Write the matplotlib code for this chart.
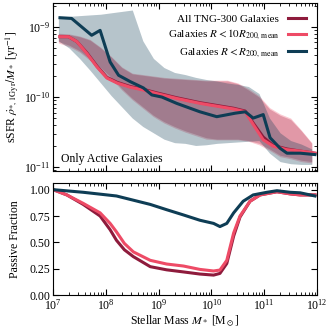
import numpy as np
import matplotlib
matplotlib.use("Agg")
import matplotlib.pyplot as plt

plt.rcParams['font.family'] = ['Liberation Serif', 'DejaVu Serif']
plt.rcParams['mathtext.fontset'] = 'stix'
plt.rcParams['font.size'] = 8.5

c_all = '#8e1b3c'
c_10r = '#ee4b66'
c_r = '#0e3d55'

# --- top panel: sSFR of active galaxies (log10 values) ---
logm_all = [7.13, 7.29, 7.45, 7.64, 7.83, 8.02, 8.21, 8.46, 8.71, 8.96, 9.34, 9.78, 10.10, 10.42, 10.64, 10.79, 10.98, 11.17, 11.43, 11.68, 11.96]
ssfr_all = [-9.14, -9.14, -9.21, -9.37, -9.56, -9.72, -9.79, -9.85, -9.89, -9.94, -10.01, -10.08, -10.12, -10.16, -10.20, -10.37, -10.57, -10.69, -10.74, -10.77, -10.80]
ssfr_10r = [-9.14, -9.14, -9.21, -9.38, -9.57, -9.73, -9.80, -9.86, -9.90, -9.95, -10.02, -10.09, -10.13, -10.17, -10.21, -10.39, -10.61, -10.70, -10.75, -10.77, -10.80]

logm_r = [7.13, 7.35, 7.54, 7.73, 7.89, 8.08, 8.24, 8.46, 8.71, 8.87, 9.06, 9.34, 9.78, 10.10, 10.45, 10.64, 10.79, 10.98, 11.11, 11.30, 11.43, 11.68, 11.96]
ssfr_r = [-8.87, -8.88, -9.00, -9.12, -9.05, -9.50, -9.69, -9.78, -9.87, -9.97, -10.00, -10.09, -10.21, -10.28, -10.23, -10.21, -10.30, -10.25, -10.58, -10.73, -10.80, -10.80, -10.82]

band_m = [7.1, 7.3, 7.5, 7.7, 7.9, 8.1, 8.3, 8.5, 8.7, 8.9, 9.1, 9.3, 9.5, 9.7, 9.9, 10.1, 10.3, 10.5, 10.7, 10.9, 11.1, 11.3, 11.5, 11.7, 11.9]
band_all_lo = [-9.21, -9.26, -9.34, -9.46, -9.58, -9.72, -9.88, -10.02, -10.14, -10.26, -10.35, -10.42, -10.48, -10.53, -10.58, -10.60, -10.60, -10.60, -10.62, -10.66, -10.74, -10.83, -10.86, -10.90, -10.92]
band_all_hi = [-9.10, -9.11, -9.14, -9.19, -9.30, -9.43, -9.58, -9.67, -9.69, -9.71, -9.73, -9.74, -9.75, -9.76, -9.77, -9.77, -9.77, -9.81, -9.90, -10.00, -10.17, -10.26, -10.32, -10.48, -10.66]
band_10r_lo = [-9.23, -9.28, -9.36, -9.48, -9.60, -9.74, -9.90, -10.04, -10.16, -10.28, -10.37, -10.44, -10.50, -10.55, -10.60, -10.61, -10.61, -10.61, -10.63, -10.68, -10.76, -10.85, -10.88, -10.92, -10.94]
band_10r_hi = [-9.09, -9.10, -9.13, -9.18, -9.29, -9.42, -9.57, -9.66, -9.68, -9.70, -9.72, -9.73, -9.74, -9.75, -9.76, -9.76, -9.76, -9.80, -9.88, -9.98, -10.15, -10.24, -10.30, -10.47, -10.65]
band_r_lo = [-9.20, -9.30, -9.45, -9.62, -9.80, -9.98, -10.14, -10.30, -10.42, -10.51, -10.60, -10.65, -10.66, -10.69, -10.68, -10.66, -10.65, -10.64, -10.63, -10.62, -10.80, -10.92, -10.95, -10.96, -10.96]
band_r_hi = [-8.85, -8.85, -8.84, -8.83, -8.82, -8.80, -8.78, -8.76, -9.20, -9.45, -9.58, -9.65, -9.68, -9.72, -9.75, -9.77, -9.80, -9.82, -9.85, -9.95, -10.30, -10.51, -10.62, -10.67, -10.74]

# --- bottom panel: passive fraction ---
pm_all = [7.0, 7.26, 7.57, 7.89, 8.08, 8.2, 8.35, 8.52, 8.84, 9.15, 9.47, 9.78, 10.04, 10.16, 10.29, 10.42, 10.54, 10.73, 10.92, 11.24, 11.49, 11.68, 11.96]
pf_all = [1.0, 0.95, 0.86, 0.75, 0.62, 0.52, 0.43, 0.365, 0.27, 0.24, 0.22, 0.20, 0.19, 0.206, 0.30, 0.56, 0.74, 0.89, 0.95, 0.98, 0.96, 0.95, 0.95]
pf_10r = [1.0, 0.95, 0.87, 0.78, 0.68, 0.60, 0.49, 0.41, 0.33, 0.295, 0.276, 0.244, 0.229, 0.238, 0.33, 0.59, 0.75, 0.89, 0.95, 0.98, 0.96, 0.95, 0.95]
pm_r = [7.0, 7.57, 8.2, 8.84, 9.15, 9.47, 9.78, 10.04, 10.16, 10.29, 10.42, 10.6, 10.79, 11.05, 11.24, 11.49, 11.68, 11.96]
pf_r = [1.0, 0.975, 0.94, 0.86, 0.81, 0.76, 0.71, 0.68, 0.65, 0.68, 0.78, 0.89, 0.95, 0.975, 0.99, 0.975, 0.97, 0.94]

fig = plt.figure(figsize=(3.32, 3.32), dpi=100)
gs = fig.add_gridspec(2, 1, height_ratios=[1.5, 1], hspace=0.09,
                      left=0.16, right=0.955, top=0.991, bottom=0.111)
ax1 = fig.add_subplot(gs[0])
ax2 = fig.add_subplot(gs[1], sharex=ax1)

bm = 10**np.array(band_m)
ax1.fill_between(bm, 10**np.array(band_all_lo), 10**np.array(band_all_hi), color=c_all, alpha=0.3, lw=0)
ax1.fill_between(bm, 10**np.array(band_10r_lo), 10**np.array(band_10r_hi), color=c_10r, alpha=0.3, lw=0)
ax1.fill_between(bm, 10**np.array(band_r_lo), 10**np.array(band_r_hi), color=c_r, alpha=0.3, lw=0)

ax1.plot(10**np.array(logm_all), 10**np.array(ssfr_all), color=c_all, lw=2.2, label='All TNG-300 Galaxies')
ax1.plot(10**np.array(logm_all), 10**np.array(ssfr_10r), color=c_10r, lw=2.2, label=r'Galaxies $R<10R_{200,\,\mathrm{mean}}$')
ax1.plot(10**np.array(logm_r), 10**np.array(ssfr_r), color=c_r, lw=2.2, label=r'Galaxies $R<R_{200,\,\mathrm{mean}}$')

ax1.set_xscale('log')
ax1.set_yscale('log')
ax1.set_xlim(1e7, 1e12)
ax1.set_ylim(10**-11.05, 10**-8.66)
ax1.set_ylabel(r'sSFR $\dot{\rho}_{*,\,1\mathrm{Gyr}}/M_*$ [yr$^{-1}$]', labelpad=2)
ax1.text(0.03, 0.05, 'Only Active Galaxies', transform=ax1.transAxes, fontsize=8.5)
ax1.legend(loc='upper right', frameon=False, markerfirst=False, fontsize=8,
           handlelength=1.6, labelspacing=0.35, borderaxespad=0.6)
plt.setp(ax1.get_xticklabels(), visible=False)

ax2.plot(10**np.array(pm_all), pf_all, color=c_all, lw=2.2)
ax2.plot(10**np.array(pm_all), pf_10r, color=c_10r, lw=2.2)
ax2.plot(10**np.array(pm_r), pf_r, color=c_r, lw=2.2)
ax2.set_ylim(0, 1.06)
ax2.set_yticks([0, 0.25, 0.5, 0.75, 1.0])
ax2.set_ylabel('Passive Fraction', labelpad=2)
ax2.set_xlabel(r'Stellar Mass $M_*$ [M$_\odot$]', labelpad=1)

for ax in (ax1, ax2):
    ax.tick_params(which='both', direction='in', top=True, right=True, pad=2)
    ax.tick_params(which='major', length=4)
    ax.tick_params(which='minor', length=2)

fig.align_ylabels([ax1, ax2])
fig.savefig('out.png', dpi=100)
